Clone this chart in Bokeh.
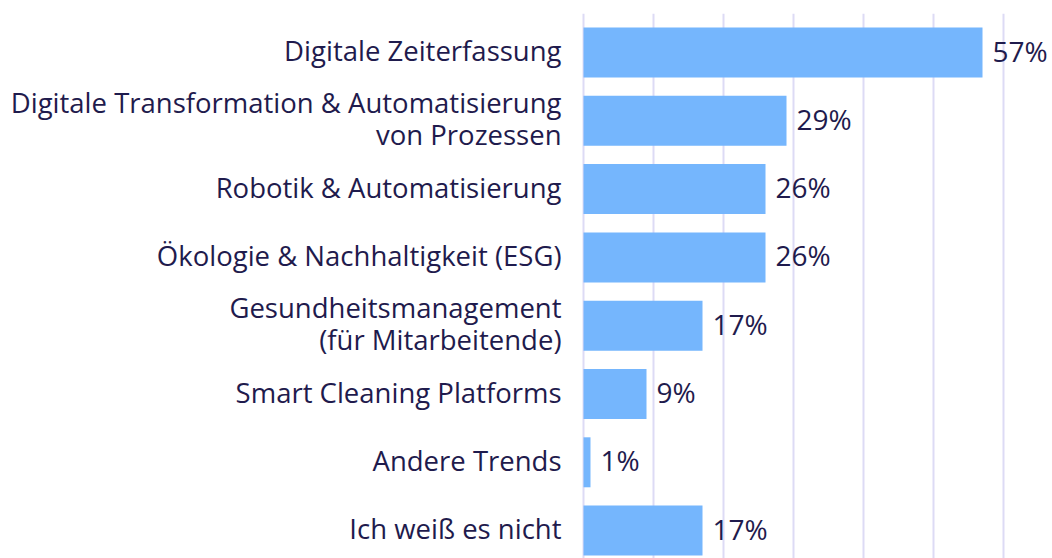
from bokeh.plotting import figure
from bokeh.models import ColumnDataSource, Range1d, FixedTicker
from bokeh.core.properties import value
from bokeh.embed import file_html
from bokeh.resources import INLINE

categories = [
    "Digitale Zeiterfassung",
    "Digitale Transformation & Automatisierung\nvon Prozessen",
    "Robotik & Automatisierung",
    "Ökologie & Nachhaltigkeit (ESG)",
    "Gesundheitsmanagement\n(für Mitarbeitende)",
    "Smart Cleaning Platforms",
    "Andere Trends",
    "Ich weiß es nicht",
]
values = [57, 29, 26, 26, 17, 9, 1, 17]
labels = [f"{v}%" for v in values]
grid_ticks = [0, 10, 20, 30, 40, 50, 60]

BAR = "#75b6fd"
TEXT = "#1f1b4d"
GRID = "#dddbf5"
FONT = "Open Sans"

W, H = 1052, 558
TOP = 13
zero_px = 583
px_per_unit = 7.0
row_px = 68.3
first_center_px = 39  # below frame top

n = len(categories)
ypos = [n - 1 - i for i in range(n)]

src = ColumnDataSource(dict(cat=categories, y=ypos, val=values, lab=labels, zero=[0] * n))

y_end = (n - 1) + first_center_px / row_px
y_start = y_end - (H - TOP) / row_px

p = figure(
    width=W, height=H,
    y_range=Range1d(y_start, y_end),
    x_range=Range1d(-zero_px / px_per_unit, (W - zero_px) / px_per_unit),
    output_backend="svg", toolbar_location=None,
    min_border_left=0, min_border_right=0, min_border_top=TOP, min_border_bottom=0,
)
p.outline_line_color = None
p.xaxis.visible = False
p.yaxis.visible = False
p.ygrid.grid_line_color = None
p.xgrid.ticker = FixedTicker(ticks=grid_ticks)
p.xgrid.grid_line_color = GRID
p.xgrid.grid_line_width = 2

p.hbar(y="y", left=0, right="val", height=0.732, source=src, fill_color=BAR, line_color=None)

p.text(x="val", y="y", text="lab", source=src, x_offset=10, y_offset=-2,
       text_align="left", text_baseline="middle", text_color=TEXT,
       text_font=value(FONT), text_font_size="28px")

p.text(x="zero", y="y", text="cat", source=src, x_offset=-22, y_offset=-2,
       text_align="right", text_baseline="middle", text_color=TEXT,
       text_font=value(FONT), text_font_size="27.5px", text_line_height=0.86)

open("out.html", "w").write(file_html(p, INLINE))
